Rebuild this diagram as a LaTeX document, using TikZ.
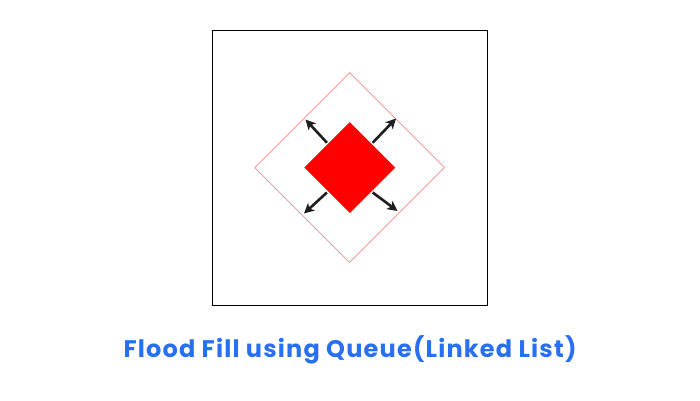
\documentclass[tikz,border=0pt]{standalone}
\usepackage{fontspec}
\setmainfont{Poppins}
\newfontfamily\titlefont[LetterSpace=5]{Poppins}
\usepackage{tikz}
\usetikzlibrary{positioning, calc}
\usetikzlibrary{shapes.geometric, arrows.meta}

\definecolor{titleblue}{RGB}{40,112,240}
\definecolor{fillred}{RGB}{255,0,0}
\definecolor{regionpink}{RGB}{255,135,135}

\tikzset{
    spread/.style={-{Stealth[length=10pt,width=10pt,inset=2.5pt]}, line width=2.6pt, draw=black!88},
}

\begin{document}
\begin{tikzpicture}[x=1pt, y=-1pt]
    \useasboundingbox (0,0) rectangle (700,400);
\node[draw, line width=0.8pt, minimum size=275pt, inner sep=0pt] (grid) at (349.8,167.6) {};
\node[diamond, draw=regionpink, line width=0.7pt, minimum size=190pt, inner sep=0pt] (region) at (349.6,167.5) {};
\node[diamond, fill=fillred, minimum size=91pt, inner sep=0pt] (seed) at (349.8,167.6) {};

\coordinate (ul) at (305.5,119.5);
\coordinate (ur) at (396,118.5);
\coordinate (ll) at (304,213.5);
\coordinate (lr) at (397.5,211);

\draw[spread] ($(seed.north)!0.5!(seed.west)+(0,-2)$) -- (ul);
\draw[spread] ($(seed.north)!0.5!(seed.east)+(0,-2)$) -- (ur);
\draw[spread] ($(seed.south)!0.5!(seed.west)+(0,2)$) -- (ll);
\draw[spread] ($(seed.south)!0.5!(seed.east)+(0,2)$) -- (lr);

\node[text=titleblue, font=\titlefont\fontsize{24}{30}\selectfont\bfseries] (title) at (350,350) {Flood Fill using Queue(Linked List)};
\end{tikzpicture}
\end{document}
